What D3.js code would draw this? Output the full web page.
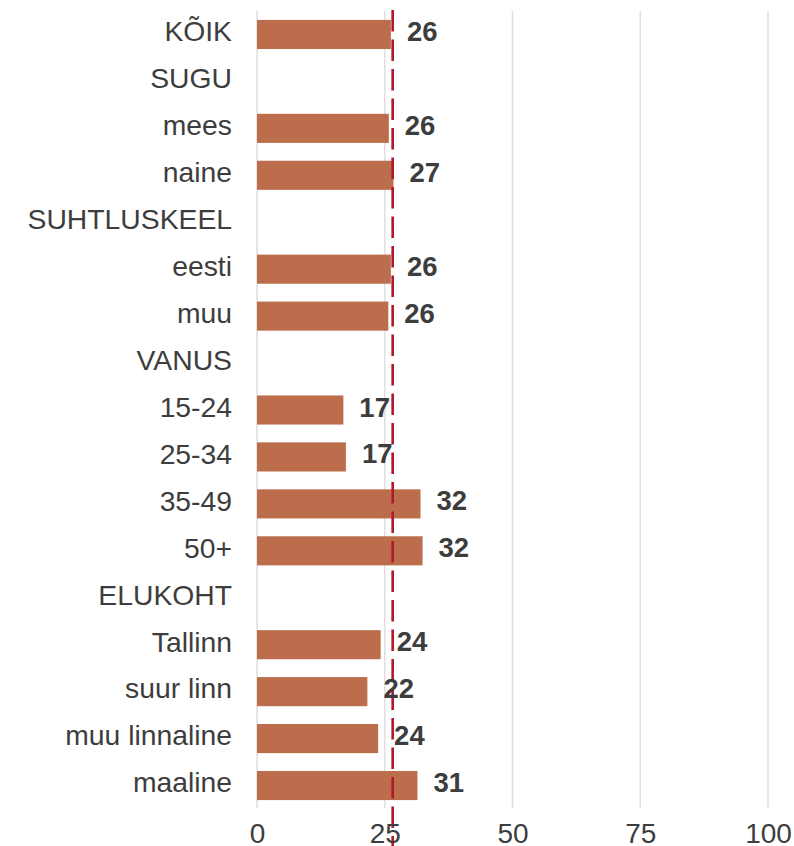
<!DOCTYPE html>
<html>
<head>
<meta charset="utf-8">
<script src="https://cdn.jsdelivr.net/npm/d3@7"></script>
<style>
  html, body { margin: 0; padding: 0; background: #ffffff; }
  svg { display: block; }
  text { font-family: "Liberation Sans", Arial, Helvetica, sans-serif; }
</style>
</head>
<body>
<div id="chart"></div>
<script>
// ---- data ----
const categories = ["KÕIK", "SUGU", "mees", "naine", "SUHTLUSKEEL", "eesti", "muu",
  "VANUS", "15-24", "25-34", "35-49", "50+", "ELUKOHT", "Tallinn", "suur linn",
  "muu linnaline", "maaline"];
const values = [26.2, null, 25.8, 26.7, null, 26.2, 25.7,
  null, 16.9, 17.4, 32.0, 32.4, null, 24.2, 21.6, 23.7, 31.4];
const averageValue = 26.55;
const xTicks = [0, 25, 50, 75, 100];

// ---- layout ----
const W = 794, H = 846;
const svg = d3.select("#chart").append("svg").attr("width", W).attr("height", H);

const x = d3.scaleLinear().domain([0, 100]).range([257, 768]);
const y = d3.scaleBand().domain(categories).range([11, 809]).paddingInner(0.38).paddingOuter(0.19);

const textColor = "#3d3d3d";

// gridlines
svg.append("g").selectAll("line").data(xTicks).join("line")
  .attr("x1", d => x(d)).attr("x2", d => x(d))
  .attr("y1", 11).attr("y2", 808)
  .attr("stroke", "#e0e0e0").attr("stroke-width", 1.6);

// bars
const rows = categories.map((c, i) => ({ c, v: values[i] })).filter(d => d.v !== null);
svg.append("g").selectAll("rect").data(rows).join("rect")
  .attr("x", x(0))
  .attr("y", d => y(d.c))
  .attr("width", d => x(d.v) - x(0))
  .attr("height", y.bandwidth())
  .attr("fill", "#bc6d4c");

// average dashed line
svg.append("line")
  .attr("x1", x(averageValue)).attr("x2", x(averageValue))
  .attr("y1", 10).attr("y2", 846)
  .attr("stroke", "#b0182b").attr("stroke-width", 2.6)
  .attr("stroke-dasharray", "21.5,8");

// value labels
svg.append("g").selectAll("text").data(rows).join("text")
  .attr("x", d => x(d.v) + 16)
  .attr("y", d => y(d.c) + y.bandwidth() / 2 + 6.5)
  .attr("font-size", 27.5)
  .attr("font-weight", "bold")
  .attr("fill", "#3d3d3d")
  .text(d => Math.round(d.v));

// category labels
svg.append("g").selectAll("text").data(categories).join("text")
  .attr("x", 232)
  .attr("y", d => y(d) + y.bandwidth() / 2 + 6.8)
  .attr("text-anchor", "end")
  .attr("font-size", 28.3)
  .attr("fill", textColor)
  .text(d => d);

// x axis tick labels
const xAxis = d3.axisBottom(x).tickValues(xTicks).tickSize(0).tickPadding(0);
const gx = svg.append("g").attr("transform", "translate(0,0)").call(xAxis);
gx.select(".domain").remove();
gx.selectAll("text")
  .attr("y", 843)
  .attr("dy", null)
  .attr("font-size", 28)
  .attr("fill", textColor)
  .style("font-family", "'Liberation Sans', Arial, sans-serif");
</script>
</body>
</html>
